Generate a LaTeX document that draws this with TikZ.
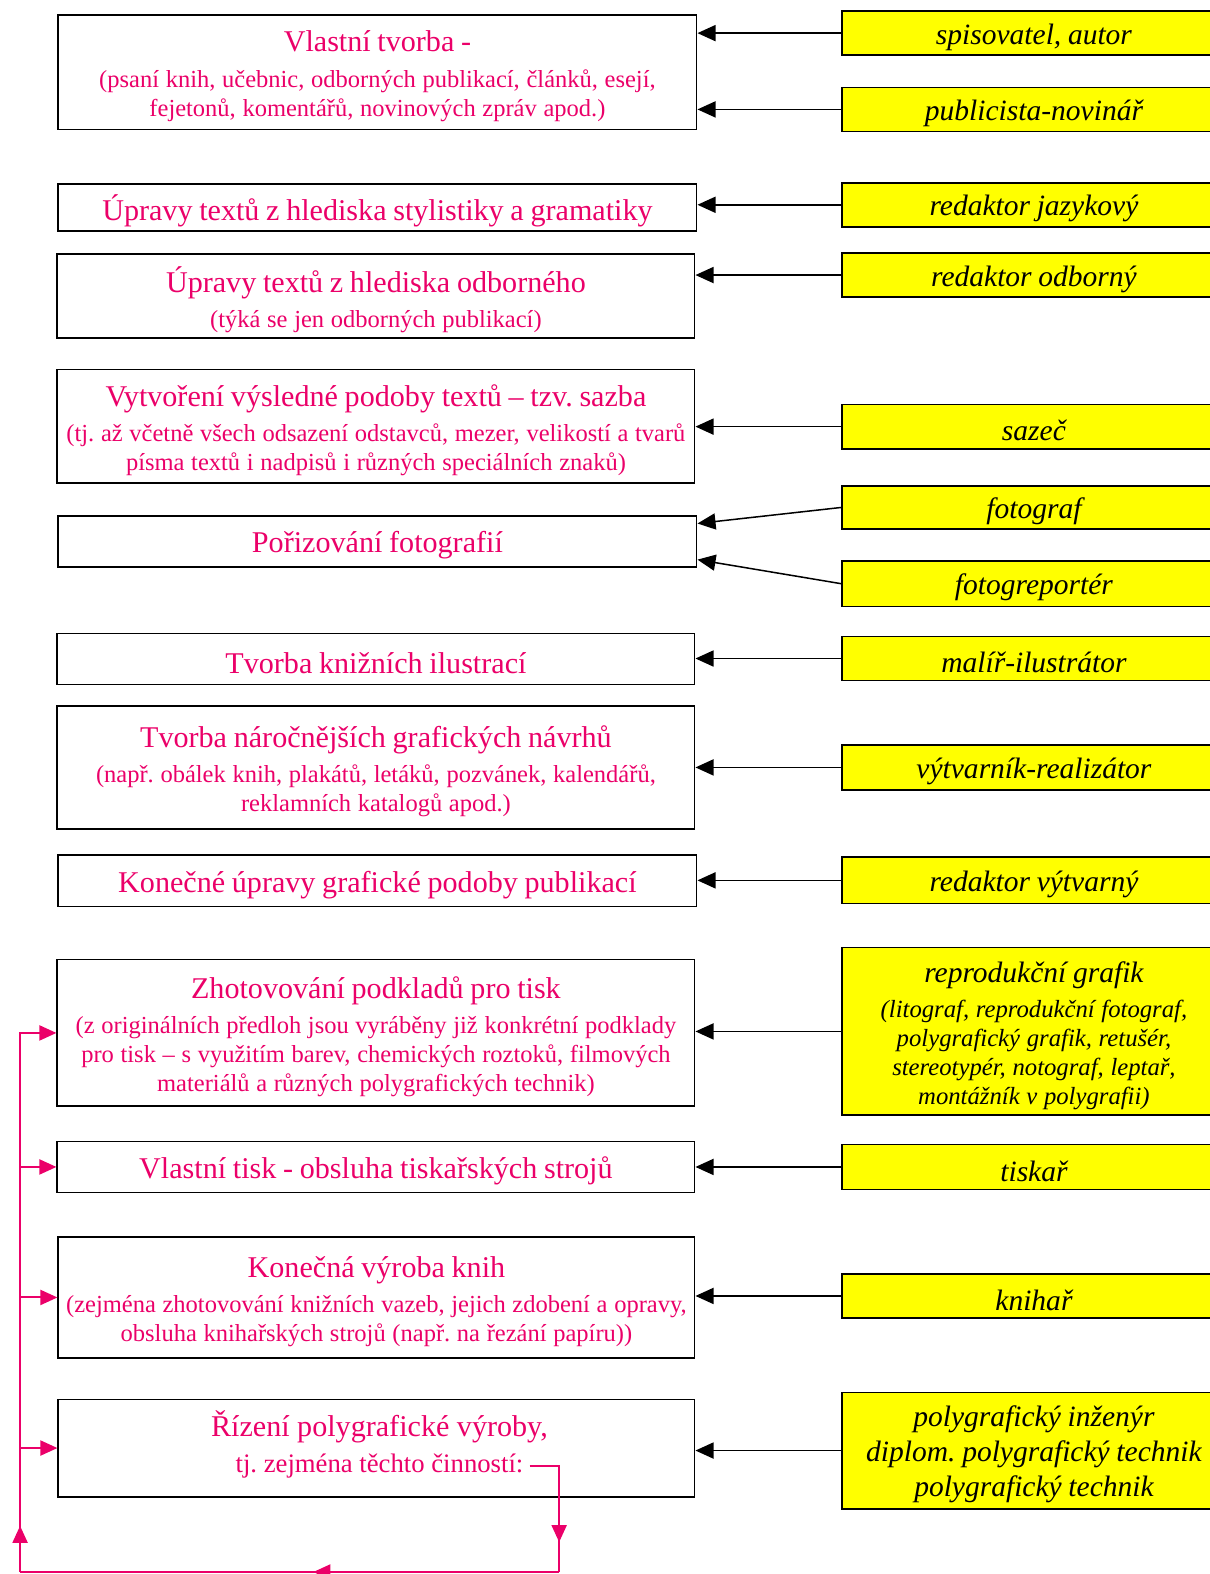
\documentclass[tikz,border=0pt]{standalone}
\usepackage{fontspec}
\setmainfont{Liberation Serif}
\usetikzlibrary{arrows.meta,fit,calc,decorations.markings}
\definecolor{pk}{RGB}{235,0,105}
\definecolor{yl}{RGB}{255,255,0}
\newcommand\Tfont{\fontsize{15pt}{17pt}\selectfont}
\newcommand\Sfont{\fontsize{12.2pt}{14.5pt}\selectfont}
\newcommand\Yfont{\fontsize{14.7pt}{17.5pt}\selectfont\itshape}
\newcommand\YSfont{\fontsize{12.3pt}{14.4pt}\selectfont\itshape}
\newcommand\Gap{\par\vspace{3pt}}
\frenchspacing
\begin{document}
\frenchspacing
\begin{tikzpicture}[x=0.5pt,y=-0.5pt,
  lbox/.style={draw=black, line width=0.8pt, inner sep=0pt, fill=white},
  ybox/.style={draw=black, line width=0.8pt, fill=yl, inner sep=0pt},
  txt/.style={text width=340pt, align=center, inner sep=0pt, text=pk, yshift=-2pt},
  ytxt/.style={text width=200pt, align=center, inner sep=0pt, text=black, yshift=-2pt},
  blk/.style={draw=black, line width=0.75pt, -{Triangle[length=9pt,width=8pt]}},
  pkl/.style={draw=pk, line width=1pt},
  pka/.style={pkl, -{Triangle[length=8.5pt,width=7.5pt]}},
  midarrow/.style={postaction={decorate}, decoration={markings,
     mark=at position #1 with {\arrow{Triangle[length=8.5pt,width=7.5pt]}}}}
]
\useasboundingbox (0,0) rectangle (1205,1568);

% ---------- left boxes ----------
\node[lbox, fit={(58,15) (694,129)}] (b1) {};
\node[lbox, fit={(58,183) (694,230)}] (b2) {};
\node[lbox, fit={(57,253) (692,337)}] (b3) {};
\node[lbox, fit={(57,368) (692,481)}] (b4) {};
\node[lbox, fit={(58,514) (694,565)}] (b5) {};
\node[lbox, fit={(57,631) (692,682)}] (b6) {};
\node[lbox, fit={(57,703) (692,826)}] (b7) {};
\node[lbox, fit={(58,852) (694,903)}] (b8) {};
\node[lbox, fit={(57,956) (692,1102)}] (b9) {};
\node[lbox, fit={(57,1137) (692,1188)}] (b10) {};
\node[lbox, fit={(58,1232) (692,1353)}] (b11) {};
\node[lbox, fit={(58,1394) (692,1491)}] (b12) {};

\node[txt] (t1) at (b1.center) {\Tfont Vlastní tvorba -\Gap\Sfont (psaní knih, učebnic, odborných publikací, článků, esejí,\\ fejetonů, komentářů, novinových zpráv apod.)\par};
\node[txt] (t2) at (b2.center) {\Tfont Úpravy textů z hlediska stylistiky a gramatiky\par};
\node[txt] (t3) at (b3.center) {\Tfont Úpravy textů z hlediska odborného\Gap\Sfont (týká se jen odborných publikací)\par};
\node[txt] (t4) at (b4.center) {\Tfont Vytvoření výsledné podoby textů – tzv. sazba\Gap\Sfont (tj. až včetně všech odsazení odstavců, mezer, velikostí a tvarů\\ písma textů i nadpisů i různých speciálních znaků)\par};
\node[txt] (t5) at (b5.center) {\Tfont Pořizování fotografií\par};
\node[txt] (t6) at (b6.center) {\Tfont Tvorba knižních ilustrací\par};
\node[txt] (t7) at (b7.center) {\Tfont Tvorba náročnějších grafických návrhů\Gap\Sfont (např. obálek knih, plakátů, letáků, pozvánek, kalendářů,\\ reklamních katalogů apod.)\par};
\node[txt] (t8) at (b8.center) {\Tfont Konečné úpravy grafické podoby publikací\par};
\node[txt] (t9) at (b9.center) {\Tfont Zhotovování podkladů pro tisk\Gap\Sfont (z originálních předloh jsou vyráběny již konkrétní podklady\\ pro tisk – s využitím barev, chemických roztoků, filmových\\ materiálů a různých polygrafických technik)\par};
\node[txt] (t10) at (b10.center) {\Tfont Vlastní tisk - obsluha tiskařských strojů\par};
\node[txt] (t11) at (b11.center) {\Tfont Konečná výroba knih\Gap\Sfont (zejména zhotovování knižních vazeb, jejich zdobení a opravy,\\ obsluha knihařských strojů (např. na řezání papíru))\par};
\node[text=pk, inner sep=0pt, font=\Tfont] (t12a) at (378,1421) {Řízení polygrafické výroby,};
\node[text=pk, inner sep=3pt, font=\fontsize{13.3pt}{16pt}\selectfont] (t12b) at (378,1460) {tj. zejména těchto činností:};

% ---------- yellow boxes ----------
\node[ybox, fit={(839,11) (1221,55)}] (ya) {};
\node[ybox, fit={(839,87) (1221,131)}] (yb) {};
\node[ybox, fit={(839,182) (1221,226)}] (yc) {};
\node[ybox, fit={(839,252) (1221,296)}] (yd) {};
\node[ybox, fit={(839,403) (1221,447)}] (ye) {};
\node[ybox, fit={(839,484) (1221,527)}] (yf) {};
\node[ybox, fit={(839,559) (1221,604)}] (yg) {};
\node[ybox, fit={(839,634) (1221,678)}] (yh) {};
\node[ybox, fit={(839,742) (1221,787)}] (yi) {};
\node[ybox, fit={(839,854) (1221,900)}] (yj) {};
\node[ybox, fit={(839,944) (1221,1111)}] (yk) {};
\node[ybox, fit={(839,1140) (1221,1185)}] (yl) {};
\node[ybox, fit={(839,1269) (1221,1313)}] (ym) {};
\node[ybox, fit={(839,1387) (1221,1503)}] (yn) {};

\node[ytxt] at (ya.center) {\Yfont spisovatel, autor\par};
\node[ytxt] at (yb.center) {\Yfont publicista-novinář\par};
\node[ytxt] at (yc.center) {\Yfont redaktor jazykový\par};
\node[ytxt] at (yd.center) {\Yfont redaktor odborný\par};
\node[ytxt] at (ye.center) {\Yfont sazeč\par};
\node[ytxt] at (yf.center) {\Yfont fotograf\par};
\node[ytxt] at (yg.center) {\Yfont fotogreportér\par};
\node[ytxt] at (yh.center) {\Yfont malíř-ilustrátor\par};
\node[ytxt] at (yi.center) {\Yfont výtvarník-realizátor\par};
\node[ytxt] at (yj.center) {\Yfont redaktor výtvarný\par};
\node[ytxt] at (yk.center) {\Yfont reprodukční grafik\Gap\YSfont (litograf, reprodukční fotograf,\\ polygrafický grafik, retušér,\\ stereotypér, notograf, leptař,\\ montážník v polygrafii)\par};
\node[ytxt] at (yl.center) {\Yfont tiskař\par};
\node[ytxt] at (ym.center) {\Yfont knihař\par};
\node[ytxt] at (yn.center) {\Yfont polygrafický inženýr\\ diplom. polygrafický technik\\ polygrafický technik\par};

% ---------- black arrows ----------
\draw[blk] (ya.west) -- (ya.west -| b1.east);
\draw[blk] (yb.west) -- (yb.west -| b1.east);
\draw[blk] (yc.west) -- (yc.west -| b2.east);
\draw[blk] (yd.west) -- (yd.west -| b3.east);
\draw[blk] (ye.west) -- (ye.west -| b4.east);
\draw[blk] (yf.west) -- ($(b5.east)+(0,-18)$);
\draw[blk] (yg.west) -- ($(b5.east)+(0,18)$);
\draw[blk] (yh.west) -- (yh.west -| b6.east);
\draw[blk] (yi.west) -- (yi.west -| b7.east);
\draw[blk] (yj.west) -- (yj.west -| b8.east);
\draw[blk] (yk.west) -- (yk.west -| b9.east);
\draw[blk] (yl.west) -- (yl.west -| b10.east);
\draw[blk] (ym.west) -- (ym.west -| b11.east);
\draw[blk] (yn.west) -- (yn.west -| b12.east);

% ---------- pink loop ----------
\coordinate (dn) at (557,1566);
\coordinate (lb) at (20,1566);
\draw[pkl, midarrow=0.78] (t12b.east) -| (dn);
\draw[pkl, midarrow=0.456] (dn) -- (lb);
\draw[pka, midarrow=23pt] (lb) -- (lb |- b9.west) -- (b9.west);
\draw[pka] (lb |- b10.west) -- (b10.west);
\draw[pka] (lb |- b11.west) -- (b11.west);
\draw[pka] (lb |- b12.west) -- (b12.west);
\end{tikzpicture}
\end{document}
